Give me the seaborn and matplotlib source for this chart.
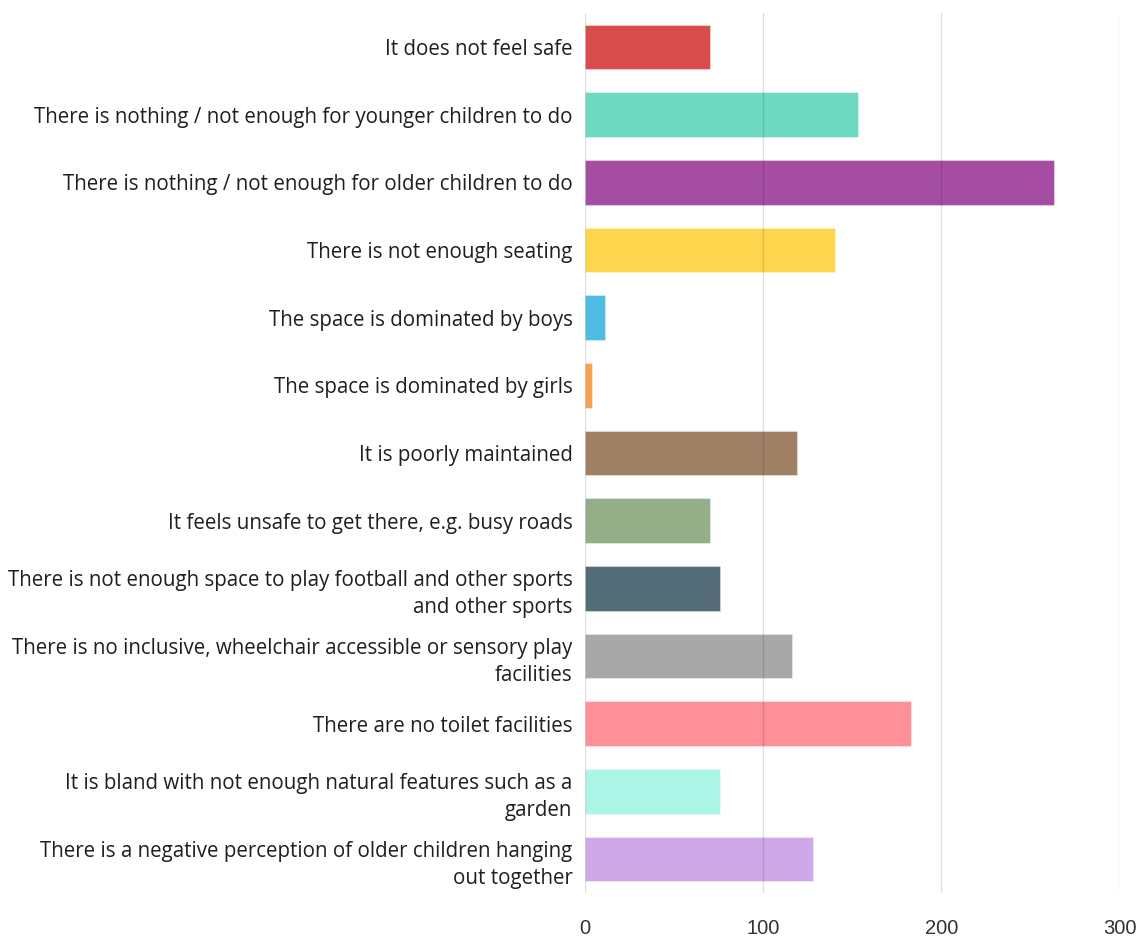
import matplotlib
matplotlib.use("Agg")
import matplotlib.pyplot as plt
import seaborn as sns
import pandas as pd

# Survey responses: reasons the play space does not work well
reasons = [
    "It does not feel safe",
    "There is nothing / not enough for younger children to do",
    "There is nothing / not enough for older children to do",
    "There is not enough seating",
    "The space is dominated by boys",
    "The space is dominated by girls",
    "It is poorly maintained",
    "It feels unsafe to get there, e.g. busy roads",
    "There is not enough space to play football and other sports\nand other sports",
    "There is no inclusive, wheelchair accessible or sensory play\nfacilities",
    "There are no toilet facilities",
    "It is bland with not enough natural features such as a\ngarden",
    "There is a negative perception of older children hanging\nout together",
]
counts = [70, 153, 263, 140, 11, 4, 119, 70, 76, 116, 183, 76, 128]
bar_colors = [
    "#D94C4E", "#6DD9C1", "#A54CA3", "#FFD54D", "#4FBCE3", "#F8A153", "#A08064",
    "#94AE88", "#546C75", "#A8A8A8", "#FF8F99", "#AAF5E5", "#CFA8E9",
]
x_ticks = [0, 100, 200, 300]

df = pd.DataFrame({"reason": reasons, "count": counts})

sns.set_theme(style="white")
plt.rcParams["font.family"] = ["Open Sans", "DejaVu Sans"]

fig = plt.figure(figsize=(11.42, 9.40), dpi=100)
ax = fig.add_axes([0.5123, 1 - 893 / 940, 0.9804 - 0.5123, (893 - 13) / 940])

sns.barplot(
    data=df, y="reason", x="count", hue="reason",
    palette=dict(zip(reasons, bar_colors)), order=reasons,
    orient="h", width=0.66, legend=False, saturation=1,
    edgecolor="white", linewidth=0.8, ax=ax,
)
for p in ax.patches:
    p.set_edgecolor((1, 1, 1, 0.35))

ax.set_xlim(0, 300)
ax.set_ylim(len(reasons) - 0.5, -0.5)
ax.set_xticks(x_ticks)
ax.set_xlabel("")
ax.set_ylabel("")

# Thin grey rules drawn over the bars
ax.set_axisbelow(False)
ax.grid(axis="x", color="black", alpha=0.13, linewidth=1.0)
ax.grid(axis="y", visible=False)
for s in ax.spines.values():
    s.set_visible(False)

ax.tick_params(axis="y", length=0, pad=9, labelsize=14.8, labelcolor="#1f1f1f")
ax.tick_params(axis="x", length=0, pad=19, labelsize=14.5, labelcolor="#333333")
for lbl in ax.get_yticklabels():
    lbl.set_linespacing(1.4)
for lbl in ax.get_xticklabels():
    lbl.set_family(["Liberation Sans", "DejaVu Sans"])

fig.savefig("out.png", dpi=100, facecolor="white")
